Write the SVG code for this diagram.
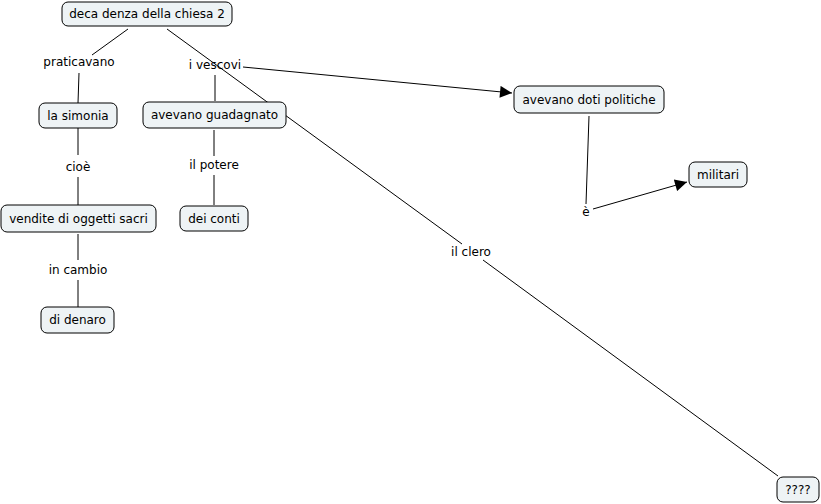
<svg xmlns="http://www.w3.org/2000/svg" width="821" height="504" viewBox="0 0 821 504">
<style>
.n rect{fill:#eef3f5;stroke:#000;stroke-width:1}
text{font-family:"DejaVu Sans",Verdana,sans-serif;font-size:12px;fill:#000;text-anchor:middle;dominant-baseline:central}
.c line{stroke:#000;stroke-width:1}
</style>
<defs>
<marker id="a" viewBox="0 0 10 10" refX="10" refY="5" markerWidth="14" markerHeight="12" markerUnits="userSpaceOnUse" orient="auto"><path d="M0,0L10,5L0,10z" fill="#000"/></marker>
</defs>
<rect width="821" height="504" fill="#fff"/>
<g class="c">
<line x1="128" y1="29" x2="92" y2="55"/>
<line x1="79" y1="73" x2="78" y2="103"/>
<line x1="78" y1="128" x2="78" y2="155"/>
<line x1="78" y1="177" x2="78" y2="205"/>
<line x1="78" y1="234" x2="78" y2="260"/>
<line x1="78" y1="280" x2="78" y2="307"/>
<line x1="167" y1="29" x2="462" y2="244"/>
<line x1="483" y1="260" x2="778" y2="476"/>
<line x1="215" y1="75" x2="215" y2="101"/>
<line x1="214" y1="130" x2="214" y2="156"/>
<line x1="214" y1="175" x2="214" y2="205"/>
<line x1="243" y1="67" x2="512" y2="93" marker-end="url(#a)"/>
<line x1="589" y1="116" x2="586" y2="204"/>
<line x1="593" y1="209" x2="687" y2="182" marker-end="url(#a)"/>
</g>
<g id="l-praticavano"><text x="79" y="62">praticavano</text></g>
<g id="l-ivescovi"><text x="215" y="65">i vescovi</text></g>
<g id="l-cioe"><text x="78" y="167">cioè</text></g>
<g id="l-ilpotere"><text x="214" y="165">il potere</text></g>
<g id="l-incambio"><text x="78" y="270">in cambio</text></g>
<g id="l-e"><text x="586" y="212">è</text></g>
<g id="l-ilclero"><text x="471" y="252">il clero</text></g>
<g id="n-root" class="n"><rect x="62" y="2" width="170" height="24" rx="6"/><text x="147" y="14">deca denza della chiesa 2</text></g>
<g id="n-simonia" class="n"><rect x="39" y="103" width="78" height="25" rx="6"/><text x="78" y="115.5">la simonia</text></g>
<g id="n-guadagnato" class="n"><rect x="143" y="102" width="143" height="26" rx="6"/><text x="214.5" y="115">avevano guadagnato</text></g>
<g id="n-vendite" class="n"><rect x="1" y="205" width="155" height="27" rx="6"/><text x="78.5" y="218.5">vendite di oggetti sacri</text></g>
<g id="n-conti" class="n"><rect x="180" y="206" width="68" height="25" rx="6"/><text x="214" y="218.5">dei conti</text></g>
<g id="n-denaro" class="n"><rect x="41" y="307" width="73" height="26" rx="6"/><text x="77.5" y="320">di denaro</text></g>
<g id="n-politiche" class="n"><rect x="514" y="86" width="150" height="27" rx="6"/><text x="589" y="99.5">avevano doti politiche</text></g>
<g id="n-militari" class="n"><rect x="689" y="162" width="58" height="25" rx="6"/><text x="718" y="174.5">militari</text></g>
<g id="n-q" class="n"><rect x="777" y="477" width="42" height="25" rx="6"/><text x="798" y="489.5">????</text></g>
</svg>
